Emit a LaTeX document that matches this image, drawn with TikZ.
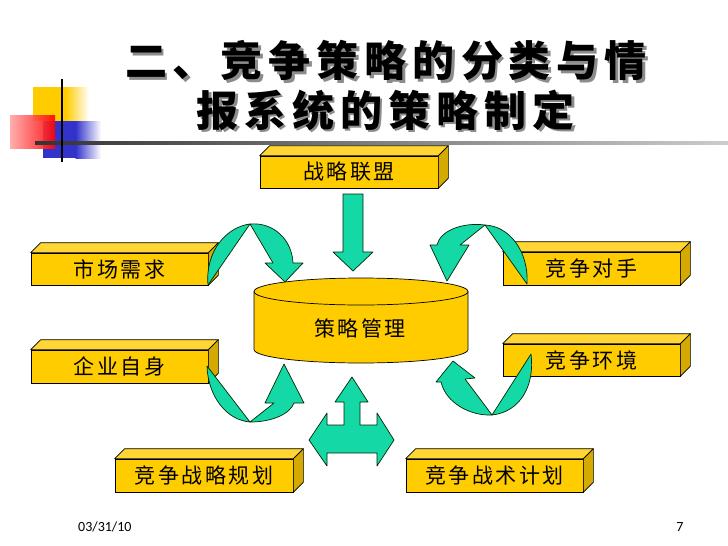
\documentclass[tikz,border=0pt]{standalone}
\usepackage{fontspec}
\setmainfont{Carlito}
\newfontfamily\cjk{Noto Sans CJK SC}
\definecolor{gold}{HTML}{FFCC00}
\definecolor{goldtop}{HTML}{FFD633}
\definecolor{goldside}{HTML}{D4A900}
\definecolor{arrowgreen}{HTML}{14D9A6}
\definecolor{decoblue}{HTML}{3333CC}
\newcommand\tsp{\hspace{6pt}}
\newcommand\bsp{\hspace{2.5pt}}
\tikzset{
  frontbox/.style={draw=black, line width=0.7pt, fill=gold, inner sep=0pt,
    font=\cjk\fontsize{21}{21}\selectfont},
  topface/.style={draw=black, line width=0.7pt, fill=goldtop, line join=round},
  sideface/.style={draw=black, line width=0.7pt, fill=goldside, line join=round},
  greenshape/.style={draw=black!60!green!40!black, line width=0.7pt, fill=arrowgreen, line join=round},
  titletext/.style={font=\cjk\bfseries\fontsize{42}{42}\selectfont, inner sep=0pt},
  plaintext/.style={font=\cjk\fontsize{21}{21}\selectfont, inner sep=0pt},
  foot/.style={font=\fontsize{14}{14}\selectfont, inner sep=0pt},
}
\newcommand\boxfaces[1]{%
  \draw[topface] (#1.north west) -- ([shift={(10,-10)}]#1.north west)
    -- ([shift={(10,-10)}]#1.north east) -- (#1.north east) -- cycle;
  \draw[sideface] (#1.north east) -- ([shift={(10,-10)}]#1.north east)
    -- ([shift={(10,-10)}]#1.south east) -- (#1.south east) -- cycle;}
\begin{document}
\begin{tikzpicture}[x=1pt,y=-1pt]
\useasboundingbox (0,0) rectangle (728,546);
\fill[white] (0,0) rectangle (728,546);
% decoration
\fill[gold] (33,87) rectangle (66,121);
\shade[left color=gold, right color=white] (65.5,87) rectangle (89,121);
\fill[decoblue] (43,121) rectangle (76,158);
\shade[left color=decoblue, right color=white] (75.5,121) rectangle (101,158);
\shade[left color=red!35!white, right color=red, opacity=0.9] (10,115) rectangle (55,148);
\shade[left color=black!80, right color=black!20] (35,141.5) rectangle (728,144.5);
\draw[line width=2.2pt] (62,79) -- (62,162);
% title
\node[titletext, text=black!45] at (388.5,63) {二\tsp{}、\tsp{}竞\tsp{}争\tsp{}策\tsp{}略\tsp{}的\tsp{}分\tsp{}类\tsp{}与\tsp{}情};
\node[titletext] (t1) at (386,60.5) {二\tsp{}、\tsp{}竞\tsp{}争\tsp{}策\tsp{}略\tsp{}的\tsp{}分\tsp{}类\tsp{}与\tsp{}情};
\node[titletext, text=black!45] at (388,112.5) {报\tsp{}系\tsp{}统\tsp{}的\tsp{}策\tsp{}略\tsp{}制\tsp{}定};
\node[titletext] (t2) at (385.5,110) {报\tsp{}系\tsp{}统\tsp{}的\tsp{}策\tsp{}略\tsp{}制\tsp{}定};
% boxes
\node[frontbox, minimum width=178, minimum height=32] (ally) at (349,172) {战\bsp{}略\bsp{}联\bsp{}盟};
\boxfaces{ally}
\node[frontbox, minimum width=177, minimum height=32] (mkt) at (119.5,269) {市\bsp{}场\bsp{}需\bsp{}求};
\boxfaces{mkt}
\node[frontbox, minimum width=177, minimum height=33] (self) at (119.5,366.5) {企\bsp{}业\bsp{}自\bsp{}身};
\boxfaces{self}
\node[frontbox, minimum width=177, minimum height=33] (rival) at (591.5,268.5) {竞\bsp{}争\bsp{}对\bsp{}手};
\boxfaces{rival}
\node[frontbox, minimum width=177, minimum height=32] (env) at (591.5,360) {竞\bsp{}争\bsp{}环\bsp{}境};
\boxfaces{env}
\node[frontbox, minimum width=178, minimum height=33] (strat) at (204,475.5) {竞\bsp{}争\bsp{}战\bsp{}略\bsp{}规\bsp{}划};
\boxfaces{strat}
\node[frontbox, minimum width=177, minimum height=33] (tact) at (494.5,475.5) {竞\bsp{}争\bsp{}战\bsp{}术\bsp{}计\bsp{}划};
\boxfaces{tact}
% cylinder
\draw[draw=black, line width=0.7pt, fill=gold] (254,291.5) -- (254,349.5)
  arc[start angle=180, end angle=0, x radius=107, y radius=13.5]
  -- (468,291.5)
  arc[start angle=0, end angle=-180, x radius=107, y radius=13.5] -- cycle;
\draw[line width=0.7pt] (254,291.5) arc[start angle=180, end angle=0, x radius=107, y radius=13.5];
\node[plaintext] (core) at (360,328) {策\bsp{}略\bsp{}管\bsp{}理};
% down arrow
\draw[greenshape] (343,194) -- (363,194) -- (363,252) -- (373,252) -- (353,271)
  -- (333,252) -- (343,252) -- cycle;
% top-left curved arrow
\draw[greenshape] (208,285) .. controls (205,252) and (226,227) .. (250,224) -- cycle;
\draw[greenshape] (250,224) .. controls (274,222) and (292,240) .. (293,263)
  -- (303,263) -- (285,282) -- (265,263) -- (273,263) -- cycle;
% top-right curved arrow
\draw[greenshape] (527,284) .. controls (529,251) and (509,226) .. (485,225) -- cycle;
\draw[greenshape] (485,225) .. controls (462,222) and (440,231) .. (437,245)
  -- (430,245) -- (447,281) -- (469,245) -- (460,245) -- cycle;
% bottom-left curved arrow
\draw[greenshape] (207,366) .. controls (208,396) and (226,420) .. (250,422) -- cycle;
\draw[greenshape] (250,422) .. controls (272,422) and (290,414) .. (294,403)
  -- (304,403) -- (284,364) -- (265,403) -- (274,403) -- cycle;
% bottom-right curved arrow
\draw[greenshape] (531,354) .. controls (535,386) and (520,412) .. (492,415) -- cycle;
\draw[greenshape] (492,415) .. controls (470,416) and (446,403) .. (441,382)
  -- (436,382) -- (453,361) -- (475,378) -- (465,379) -- cycle;
% three-way arrow
\draw[greenshape] (352,377) -- (368,402) -- (360,402) -- (360,425) -- (377,425)
  -- (377,413) -- (394,440) -- (377,466) -- (377,453) -- (327,453) -- (327,466)
  -- (309,440) -- (327,413) -- (327,425) -- (344,425) -- (344,402) -- (335,402) -- cycle;
% footer
\node[foot, anchor=west] (date) at (78,527) {03/31/10};
\node[foot] (page) at (680,527) {7};
\end{tikzpicture}
\end{document}
